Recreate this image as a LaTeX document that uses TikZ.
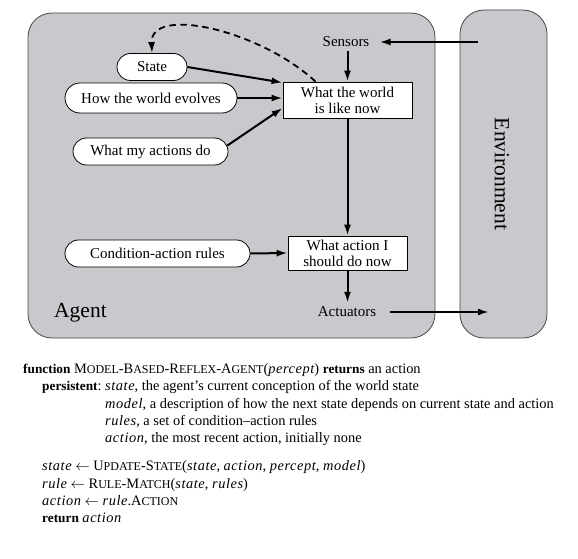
\documentclass[tikz,border=0pt]{standalone}
\usepackage{fontspec}
\setmainfont{Liberation Serif}
\usetikzlibrary{shapes.misc,arrows.meta}
\definecolor{panel}{RGB}{200,201,204}
\definecolor{edge}{RGB}{70,70,70}
\newcommand\SCx[1]{{\fontsize{12}{12}\selectfont #1}}
\newcommand\Vx[1]{{\itshape\addfontfeature{LetterSpace=4}#1}}
\newcommand\Bx[1]{{\fontsize{13.3}{14}\selectfont\bfseries #1}}
\begin{document}
\begin{tikzpicture}[x=1pt,y=-1pt,
  lbl/.style={font=\fontsize{15}{16}\selectfont},
  pill/.style={lbl, rounded rectangle, draw=black, line width=0.8pt, fill=white, inner sep=0pt},
  rbox/.style={lbl, rectangle, draw=black, line width=0.8pt, fill=white, align=center, inner sep=0pt},
  arr/.style={line width=2pt, -{Latex[length=11pt,width=7pt]}},
  code/.style={anchor=base west, inner sep=0pt, font=\fontsize{14.4}{16}\selectfont}
]
\useasboundingbox (0,0) rectangle (578,559);
% panels
\draw[fill=panel, draw=edge, line width=0.8pt, rounded corners=24pt] (28,13) rectangle (435,338);
\draw[fill=panel, draw=edge, line width=0.8pt, rounded corners=24pt] (460,10) rectangle (547,338);
\node[font=\fontsize{21.5}{22}\selectfont, anchor=west, inner sep=0pt] (agentlbl) at (54,313) {Agent};
\node[font=\fontsize{21.5}{22}\selectfont, rotate=-90, inner sep=0pt] (envlbl) at (502,174) {Environment};
% nodes
\node[pill, minimum width=70pt, minimum height=27pt] (state) at (152,67) {State};
\node[pill, minimum width=172pt, minimum height=30pt] (evolves) at (151,98) {How the world evolves};
\node[pill, minimum width=155pt, minimum height=27pt] (actions) at (150.5,151.5) {What my actions do};
\node[pill, minimum width=185pt, minimum height=27pt] (rules) at (157.5,253.5) {Condition-action rules};
\node[rbox, minimum width=129pt, minimum height=36pt] (world) at (347.5,100) {What the world\\is like now};
\node[rbox, minimum width=119pt, minimum height=34pt] (action) at (347.5,253) {What action I\\should do now};
\node[lbl, inner xsep=10pt, inner ysep=4pt] (sensors) at (346,42) {Sensors};
\node[lbl, inner xsep=14pt, inner ysep=4pt] (actuators) at (347,312) {Actuators};
\coordinate (envS) at (478,42);
\coordinate (envA) at (489,312);
% connectors
\draw[arr] (envS) -- (sensors.east);
\draw[arr] (sensors.south -| world.north) -- (world.north);
\draw[arr] (state.east) -- ([yshift=-1pt]world.north west);
\draw[arr] (evolves.east) -- (evolves.east -| world.west);
\draw[arr] ([xshift=-1pt,yshift=6pt]actions.east) -- ([yshift=-8pt]world.west);
\draw[arr] (world.south) -- (action.north);
\draw[arr] (rules.east) -- (action.west);
\draw[arr] (action.south) -- (action.south |- actuators.north);
\draw[arr] (actuators.east) -- (envA);
\draw[line width=1.8pt, dash pattern=on 6.5pt off 4.5pt, -{Latex[length=11pt,width=7pt]}]
  ([xshift=-32pt]world.north) .. controls (260,30) and (150,5) .. (state.north);
% code
\node[code] (c1) at (23,373) {\Bx{function} M\SCx{ODEL}-B\SCx{ASED}-R\SCx{EFLEX}-A\SCx{GENT}(\Vx{percept}) \Bx{returns} an action};
\node[code] (c2) at (42,390) {\Bx{persistent}:};
\node[code] (c2b) at (105,390) {\Vx{state}, the agent's current conception of the world state};
\node[code] (c3) at (105,408) {\Vx{model}, a description of how the next state depends on current state and action};
\node[code] (c4) at (105,425) {\Vx{rules}, a set of condition--action rules};
\node[code] (c5) at (105,442) {\Vx{action}, the most recent action, initially none};
\node[code] (c6) at (42,470) {\Vx{state} $\leftarrow$ U\SCx{PDATE}-S\SCx{TATE}(\Vx{state}, \Vx{action}, \Vx{percept}, \Vx{model})};
\node[code] (c7) at (42,488) {\Vx{rule} $\leftarrow$ R\SCx{ULE}-M\SCx{ATCH}(\Vx{state}, \Vx{rules})};
\node[code] (c8) at (42,505) {\Vx{action} $\leftarrow$ \Vx{rule}.A\SCx{CTION}};
\node[code] (c9) at (42,522) {\Bx{return} \Vx{action}};
\end{tikzpicture}
\end{document}
